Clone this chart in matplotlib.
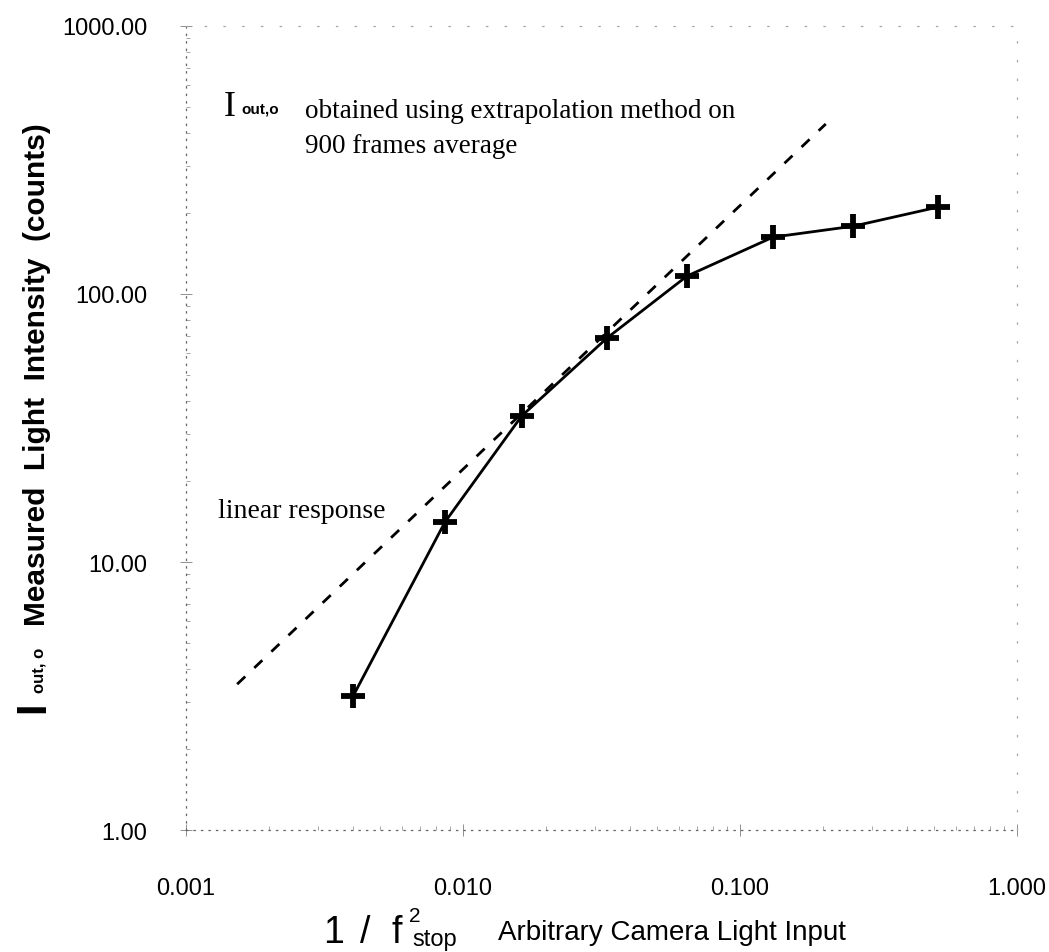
import matplotlib
matplotlib.use("Agg")
import matplotlib.pyplot as plt

# measured points
light_input = [0.00401, 0.00861, 0.0163, 0.0331, 0.0644, 0.1316, 0.256, 0.519]
intensity = [3.16, 14.1, 35.1, 68.5, 116.7, 163.0, 179.0, 211.0]

# linear response reference line (end points)
lin_x = [0.00153, 0.204]
lin_y = [3.5, 431.0]

xticks = [0.001, 0.01, 0.1, 1.0]
xtick_labels = ["0.001", "0.010", "0.100", "1.000"]
yticks = [1, 10, 100, 1000]
ytick_labels = ["1.00", "10.00", "100.00", "1000.00"]

W, H = 1049, 953
fig = plt.figure(figsize=(W / 100, H / 100), dpi=100)

def px(x, y):
    # pixel position -> figure fraction
    return x / W, 1 - y / H

left, right, top, bottom = 186, 1017, 27, 831
ax = fig.add_axes([left / W, 1 - bottom / H, (right - left) / W, (bottom - top) / H])
ax.set_xscale("log")
ax.set_yscale("log")
ax.set_xlim(0.001, 1.0)
ax.set_ylim(1, 1000)

ax.plot(lin_x, lin_y, color="black", lw=2.0, ls=(0, (4, 4.5)))
ax.plot(light_input, intensity, color="black", lw=2.0, marker="+", ms=17, mew=4.2)

for name, s in ax.spines.items():
    if name in ("left", "bottom"):
        s.set_linestyle((0, (1, 5)))
        s.set_color("0.4")
    else:
        s.set_linestyle((0, (1, 14)))
        s.set_color("0.65")
    s.set_linewidth(0.9)

ax.set_xticks(xticks)
ax.set_xticklabels(xtick_labels)
ax.set_yticks(yticks)
ax.set_yticklabels(ytick_labels)
ax.tick_params(which="major", direction="inout", length=8, width=0.6, color="0.5",
               labelsize=17)
ax.tick_params(which="minor", direction="in", length=3, width=0.6, color="0.6")
ax.tick_params(axis="x", pad=30)
ax.tick_params(axis="y", pad=24)
for lab in ax.get_xticklabels() + ax.get_yticklabels():
    lab.set_fontfamily("Liberation Sans")

sans = "Liberation Sans"
serif = "Liberation Serif"

# y label pieces
fig.text(*px(44, 713), "I", rotation=90, rotation_mode="anchor", ha="left", va="baseline",
         fontsize=30, fontweight="bold", family=sans)
fig.text(*px(44, 693), "out, o", rotation=90, rotation_mode="anchor", ha="left", va="baseline",
         fontsize=12, fontweight="bold", family=sans)
fig.text(*px(45, 626), "Measured  Light  Intensity  (counts)", rotation=90, rotation_mode="anchor",
         ha="left", va="baseline", fontsize=21.5, fontweight="bold", family=sans)

# x label pieces
fig.text(*px(323, 943), "1", ha="left", va="baseline", fontsize=27, family=sans)
fig.text(*px(360, 943), "/", ha="left", va="baseline", fontsize=27, family=sans)
fig.text(*px(391, 943), "f", ha="left", va="baseline", fontsize=27, family=sans)
fig.text(*px(409, 922), "2", ha="left", va="baseline", fontsize=15, family=sans)
fig.text(*px(412, 946), "stop", ha="left", va="baseline", fontsize=17, family=sans)
fig.text(*px(498, 940), "Arbitrary Camera Light Input", ha="left", va="baseline",
         fontsize=20, family=sans)

# annotations
fig.text(*px(224, 116), "I", ha="left", va="baseline", fontsize=26, family=serif)
fig.text(*px(241, 114), "out,o", ha="left", va="baseline", fontsize=11, fontweight="bold",
         family=sans)
fig.text(*px(305, 118), "obtained using extrapolation method on", ha="left", va="baseline",
         fontsize=19.5, family=serif)
fig.text(*px(305, 153), "900 frames average", ha="left", va="baseline", fontsize=19.5,
         family=serif)
fig.text(*px(218, 518), "linear response", ha="left", va="baseline", fontsize=20, family=serif)

fig.savefig("out.png", dpi=100)
